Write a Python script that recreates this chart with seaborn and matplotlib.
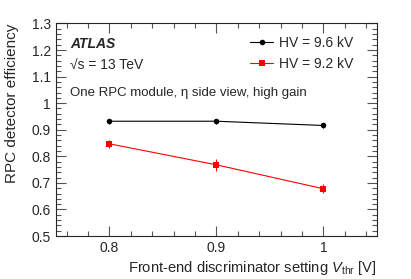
import pandas as pd
import matplotlib.pyplot as plt
import seaborn as sns
import numpy as np
from matplotlib.ticker import MultipleLocator

# ── Data ──────────────────────────────────────────────
v_thr      = [0.8, 0.9, 1.0]
eff_96     = [0.932, 0.932, 0.916]
err_96     = [0.010, 0.010, 0.010]
eff_92     = [0.847, 0.768, 0.678]
err_92     = [0.015, 0.023, 0.017]
series     = ['HV = 9.6 kV', 'HV = 9.2 kV']

df = pd.DataFrame({
    'vthr': v_thr * 2,
    'eff': eff_96 + eff_92,
    'err': err_96 + err_92,
    'hv': [series[0]] * 3 + [series[1]] * 3,
})

sns.set_style('ticks')
plt.rcParams['font.family'] = ['Liberation Sans', 'DejaVu Sans']
plt.rcParams['mathtext.fontset'] = 'custom'
plt.rcParams['mathtext.rm'] = 'Liberation Sans'
plt.rcParams['mathtext.it'] = 'Liberation Sans:italic'

fig = plt.figure(figsize=(4.11, 2.79), dpi=100)
ax = fig.add_axes([0.136, 0.154, 0.781, 0.762])

palette = {series[0]: 'black', series[1]: '#ff0000'}
markers = {series[0]: 'o', series[1]: 's'}
sns.lineplot(data=df, x='vthr', y='eff', hue='hv', style='hv',
             palette=palette, markers=markers, dashes=False,
             markersize=4, linewidth=0.8, markeredgewidth=0, ax=ax)
for name in series:
    sub = df[df['hv'] == name]
    ax.errorbar(sub['vthr'], sub['eff'], yerr=sub['err'], fmt='none',
                ecolor=palette[name], elinewidth=0.8, capsize=0)

ax.set_xlim(0.75, 1.05)
ax.set_ylim(0.5, 1.3)
ax.xaxis.set_minor_locator(MultipleLocator(0.02))
ax.yaxis.set_minor_locator(MultipleLocator(0.02))
ax.set_xticks(v_thr)
ax.set_xticklabels(['0.8', '0.9', '1'])
ax.set_yticks(np.round(np.arange(0.5, 1.31, 0.1), 1))
ax.set_yticklabels(['0.5', '0.6', '0.7', '0.8', '0.9', '1', '1.1', '1.2', '1.3'])
ax.tick_params(which='both', direction='in', top=True, right=True,
               labelsize=10, width=0.8, color='#555555')
ax.tick_params(which='major', length=7)
ax.tick_params(which='minor', length=3.5)
for s in ax.spines.values():
    s.set_linewidth(0.8)

ax.set_xlabel(r'Front-end discriminator setting $\it{V}_{\rm{thr}}$ [V]',
              fontsize=10.6, loc='right', labelpad=3)
ax.set_ylabel('RPC detector efficiency', fontsize=11, loc='top', labelpad=9)

ax.text(0.045, 0.903, 'ATLAS', transform=ax.transAxes, fontsize=10,
        fontweight='bold', style='italic', va='center')
ax.text(0.045, 0.80, '√s = 13 TeV', transform=ax.transAxes,
        fontsize=10, va='center')
ax.text(0.045, 0.673, 'One RPC module, η side view, high gain',
        transform=ax.transAxes, fontsize=9.5, va='center')

ax.legend(frameon=False, loc='upper left', bbox_to_anchor=(0.604, 0.94),
          borderaxespad=0, borderpad=0, fontsize=10, handlelength=1.7,
          handletextpad=0.4, labelspacing=0.5, title=None)

plt.savefig('out.png', dpi=100)
